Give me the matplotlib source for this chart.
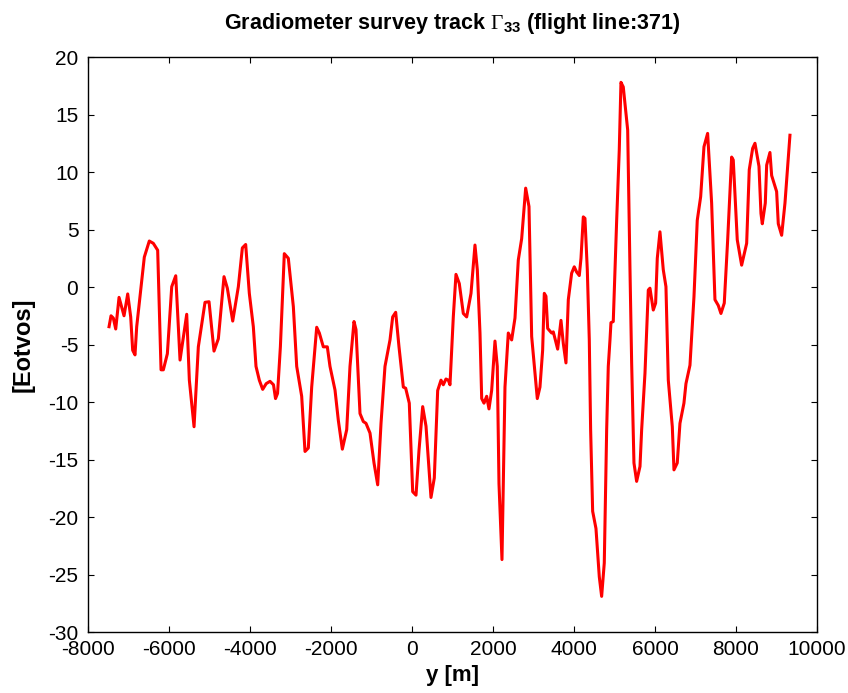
import numpy as np
import matplotlib
matplotlib.use("Agg")
import matplotlib.pyplot as plt

# flight line 371, distance along track [m] and Gzz [Eotvos]
track_y = [-7481, -7432, -7375, -7316, -7234, -7111, -7020, -6946, -6897, -6840,
           -6798, -6675, -6610, -6487, -6388, -6280, -6197, -6140, -6041, -5933,
           -5834, -5728, -5563, -5498, -5382, -5276, -5111, -5012, -4889, -4782,
           -4642, -4560, -4427, -4288, -4189, -4107, -4017, -3918, -3852, -3770,
           -3687, -3600, -3506, -3420, -3370, -3320, -3250, -3153, -3054, -2930,
           -2847, -2724, -2642, -2560, -2477, -2353, -2288, -2190, -2091, -2025,
           -1901, -1819, -1720, -1612, -1531, -1432, -1383, -1284, -1202, -1136,
           -1037, -938, -847, -765, -667, -543, -477, -403, -321, -214,
           -156, -67, 17, 99, 173, 264, 346, 469, 551, 634,
           716, 773, 839, 897, 938, 1020, 1086, 1168, 1267, 1350,
           1457, 1555, 1613, 1679, 1721, 1778, 1844, 1901, 1967, 2049,
           2106, 2148, 2222, 2296, 2378, 2461, 2543, 2625, 2708, 2807,
           2889, 2955, 3094, 3160, 3226, 3267, 3308, 3350, 3449, 3489,
           3597, 3679, 3736, 3802, 3860, 3942, 4007, 4066, 4131, 4173,
           4230, 4271, 4329, 4378, 4411, 4461, 4543, 4625, 4683, 4748,
           4807, 4847, 4889, 4913, 4970, 5054, 5118, 5160, 5217, 5326,
           5383, 5424, 5481, 5547, 5630, 5671, 5753, 5835, 5876, 5958,
           6016, 6057, 6123, 6205, 6271, 6329, 6428, 6469, 6550, 6617,
           6715, 6765, 6864, 6963, 7044, 7128, 7210, 7300, 7399, 7481,
           7563, 7629, 7711, 7795, 7893, 7933, 8032, 8140, 8204, 8264,
           8328, 8412, 8469, 8568, 8617, 8650, 8724, 8758, 8839, 8881,
           9004, 9045, 9128, 9210, 9333]
gzz = [-3.45, -2.5, -2.7, -3.65, -0.9, -2.5, -0.6, -2.6, -5.5, -5.9,
       -3.45, 0.46, 2.6, 4.0, 3.8, 3.2, -7.2, -7.2, -5.8, 0.03,
       0.98, -6.35, -2.37, -8.1, -12.15, -5.2, -1.33, -1.28, -5.57, -4.5,
       0.9, -0.1, -2.96, 0.03, 3.4, 3.7, -0.55, -3.45, -6.9, -8.1,
       -8.9, -8.4, -8.2, -8.5, -9.7, -9.25, -5.2, 2.9, 2.5, -1.7,
       -6.9, -9.5, -14.3, -14.0, -8.7, -3.5, -4.0, -5.2, -5.2, -6.9,
       -8.96, -11.6, -14.1, -12.4, -6.9, -3.0, -3.7, -11.0, -11.7, -11.85,
       -12.7, -15.3, -17.2, -11.85, -6.9, -4.6, -2.6, -2.2, -5.2, -8.7,
       -8.8, -10.1, -17.8, -18.1, -14.2, -10.4, -12.1, -18.3, -16.6, -9.0,
       -8.1, -8.5, -8.0, -8.1, -8.5, -2.6, 1.1, 0.3, -2.3, -2.6,
       -0.55, 3.65, 1.5, -4.0, -9.7, -10.1, -9.5, -10.6, -9.0, -4.7,
       -6.9, -17.1, -23.7, -8.7, -4.0, -4.6, -2.7, 2.35, 4.2, 8.6,
       7.0, -4.3, -9.7, -8.7, -5.5, -0.55, -0.8, -3.6, -4.0, -3.9,
       -5.4, -2.9, -4.9, -6.6, -1.1, 1.2, 1.76, 1.3, 1.0, 2.5,
       6.1, 5.97, 1.5, -4.6, -12.4, -19.5, -21.0, -25.2, -26.9, -24.0,
       -12.4, -6.9, -4.6, -3.1, -3.0, 5.8, 11.9, 17.8, 17.4, 13.65,
       1.5, -6.6, -15.3, -16.9, -15.6, -12.4, -7.5, -0.26, -0.1, -2.0,
       -1.4, 2.5, 4.8, 1.5, 0.03, -8.1, -12.15, -15.9, -15.3, -11.85,
       -10.1, -8.4, -6.8, -0.84, 5.8, 7.85, 12.2, 13.36, 7.3, -1.1,
       -1.6, -2.3, -1.4, 4.1, 11.3, 11.05, 4.1, 1.9, 2.9, 3.8,
       10.2, 12.06, 12.5, 10.5, 6.4, 5.5, 7.3, 10.6, 11.7, 9.7,
       8.3, 5.5, 4.5, 7.3, 13.2]

x_ticks = np.arange(-8000, 10001, 2000)
y_ticks = np.arange(-30, 21, 5)

plt.rcParams['font.family'] = ['Liberation Sans', 'DejaVu Sans']
plt.rcParams['axes.unicode_minus'] = False
plt.rcParams['mathtext.fontset'] = 'custom'
plt.rcParams['mathtext.rm'] = 'Liberation Serif'
plt.rcParams['mathtext.it'] = 'Liberation Serif:italic'
plt.rcParams['mathtext.bf'] = 'Liberation Sans:bold'

fig = plt.figure(figsize=(8.48, 6.93), dpi=100)
ax = fig.add_axes([0.1038, 0.088, 0.8596, 0.8297])

ax.plot(track_y, gzz, color='red', linewidth=2.2)

ax.set_xlim(-8000, 10000)
ax.set_ylim(-30, 20)
ax.set_xticks(x_ticks)
ax.set_yticks(y_ticks)
ax.tick_params(direction='in', top=True, right=True, length=4, width=0.8,
               labelsize=15)
ax.tick_params(axis='x', pad=6)
ax.tick_params(axis='y', pad=7)
for s in ax.spines.values():
    s.set_linewidth(1.0)

ax.set_title(r'Gradiometer survey track $\mathrm{\Gamma}_{\mathbf{33}}$ (flight line:371)',
             fontsize=15.5, fontweight='bold', pad=20)
ax.set_xlabel('y [m]', fontsize=16, fontweight='bold', labelpad=4)
ax.set_ylabel('[Eotvos]', fontsize=17, fontweight='bold', labelpad=10)

fig.savefig('out.png', dpi=100)
